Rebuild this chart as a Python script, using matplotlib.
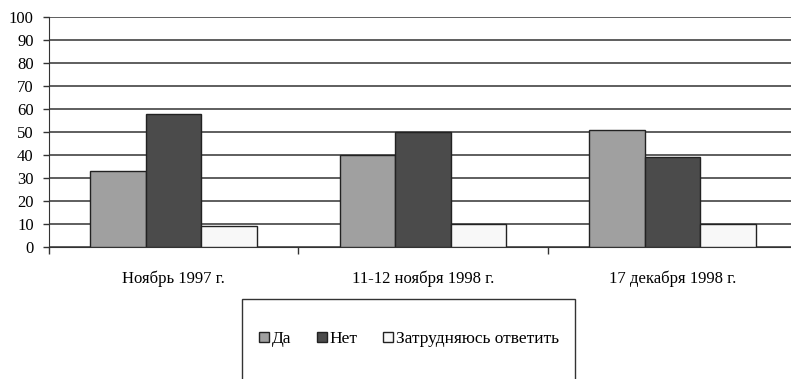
import matplotlib.pyplot as plt
import numpy as np
from matplotlib.patches import Patch, Rectangle

plt.rcParams['font.family'] = ['Liberation Serif', 'DejaVu Serif']

# Survey results, percent of answers
categories = ["Ноябрь 1997 г.", "11-12 ноября 1998 г.", "17 декабря 1998 г."]
series_names = ["Да", "Нет", "Затрудняюсь ответить"]
yes = [33, 40, 51]
no = [58, 50, 39]
unsure = [9, 10, 10]
values = [yes, no, unsure]
colors = ["#a0a0a0", "#4b4b4b", "#f8f8f8"]

fig = plt.figure(figsize=(7.91, 3.79), dpi=100)
ax = fig.add_axes([49 / 791, 1 - 247 / 379, 748 / 791, 230 / 379])

x = np.arange(len(categories))
w = 0.223
for i, (vals, col) in enumerate(zip(values, colors)):
    ax.bar(x + (i - 1) * w, vals, width=w, color=col, edgecolor="#222222",
           linewidth=1, zorder=3)

# y axis with horizontal grid
ax.set_ylim(0, 100)
ax.set_yticks(range(0, 101, 10))
ax.yaxis.grid(True, color="#333333", linewidth=1.1, zorder=0)
ax.tick_params(axis="y", direction="out", length=4, width=1, pad=7,
               labelsize=12, color="#333333")

# x axis: labels centered, tick marks between categories
ax.set_xlim(-0.5, 2.5)
ax.set_xticks(x)
ax.set_xticklabels(categories)
ax.set_xticks([-0.5, 0.5, 1.5, 2.5], minor=True)
ax.tick_params(axis="x", which="major", length=0, pad=17, labelsize=12)
ax.tick_params(axis="x", which="minor", direction="out", length=5, width=1,
               color="#333333")

for side in ["top", "right"]:
    ax.spines[side].set_visible(False)
ax.spines["left"].set_color("#333333")
ax.spines["bottom"].set_color("#333333")
ax.set_axisbelow(True)

# legend box below the chart
fig.patches.append(Rectangle((242 / 791, -0.1), 333 / 791, 0.1 + 80 / 379,
                             transform=fig.transFigure, fill=False,
                             edgecolor="#333333", linewidth=1))
handles = [Patch(facecolor=c, edgecolor="#222222", linewidth=1) for c in colors]
fig.legend(handles, series_names, loc="center", ncol=3, frameon=False,
           bbox_to_anchor=(409 / 791, 1 - 339 / 379), fontsize=12.5,
           handlelength=0.55, handleheight=0.55, handletextpad=0.15,
           columnspacing=1.5)

plt.savefig("out.png", dpi=100)
